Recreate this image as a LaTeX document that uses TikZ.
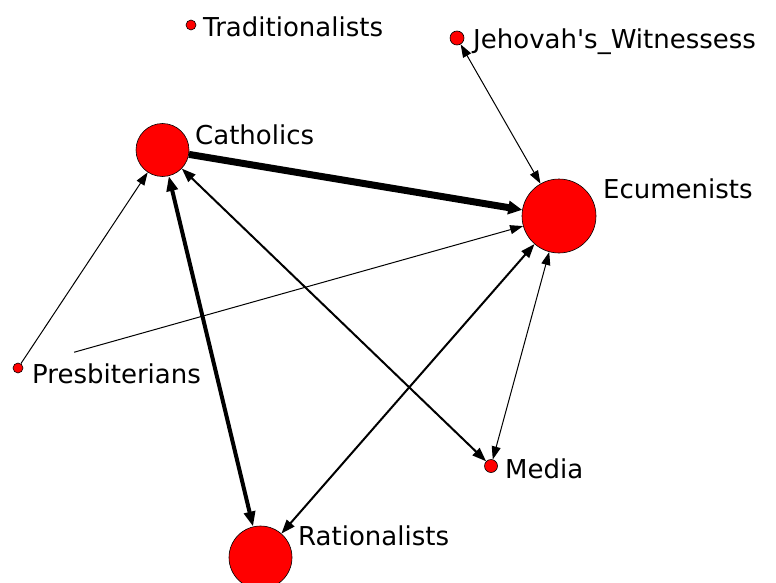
\documentclass[tikz,border=0pt]{standalone}
\usepackage{fontspec}
\setmainfont{DejaVu Sans}[Ligatures=TeXOff]
\usetikzlibrary{arrows.meta}
\begin{document}
\begin{tikzpicture}[x=1pt,y=-1pt,
  actor/.style={circle,draw=black,line width=0.6pt,fill=red,inner sep=0pt,minimum size=#1},
  lbl/.style={anchor=base west,inner sep=0pt,font=\fontsize{26}{28}\selectfont},
  tie/.style={draw=black,line width=#1},
  tip/.style={-{Triangle[length=13pt,width=9pt]}},
  tips/.style={{Triangle[length=13pt,width=9pt]}-{Triangle[length=13pt,width=9pt]}},
  midtips/.style={{Triangle[length=14pt,width=10pt]}-{Triangle[length=14pt,width=10pt]}},
  bigtips/.style={{Triangle[length=15pt,width=11pt]}-{Triangle[length=15pt,width=11pt]}},
  bigtip/.style={-{Triangle[length=14pt,width=13pt]}},
]
\useasboundingbox (0,0) rectangle (776,583);
% actors
\node[actor=10pt] (trad) at (191,25) {};
\node[actor=14pt] (jeh) at (457,38) {};
\node[actor=53pt] (cath) at (162.5,150) {};
\node[actor=74pt] (ecu) at (559,216) {};
\node[actor=10pt] (pres) at (18,368) {};
\node[actor=13pt] (media) at (491,466) {};
\node[actor=63pt] (rat) at (260.5,557.5) {};
% ties
\draw[tie=1pt,tip] (pres) -- (cath);
\draw[tie=1pt,tip,shorten <=53pt] (pres) -- (ecu);
\draw[tie=7pt,bigtip] (cath) -- (ecu);
\draw[tie=4pt,bigtips] (cath) -- (rat);
\draw[tie=2pt,midtips] (cath) -- (media);
\draw[tie=2pt,midtips] (rat) -- (ecu);
\draw[tie=1pt,tips] (jeh) -- (ecu);
\draw[tie=1pt,tips] (ecu) -- (media);
% labels
\node[lbl] (ltrad) at (203,37) {Traditionalists};
\node[lbl] (ljeh) at (473,49) {Jehovah's\_Witnessess};
\node[lbl] (lcath) at (195,144) {Catholics};
\node[lbl] (lecu) at (603,198) {Ecumenists};
\node[lbl] (lpres) at (32,383) {Presbiterians};
\node[lbl] (lmedia) at (505,478) {Media};
\node[lbl] (lrat) at (298,545) {Rationalists};
\end{tikzpicture}
\end{document}
